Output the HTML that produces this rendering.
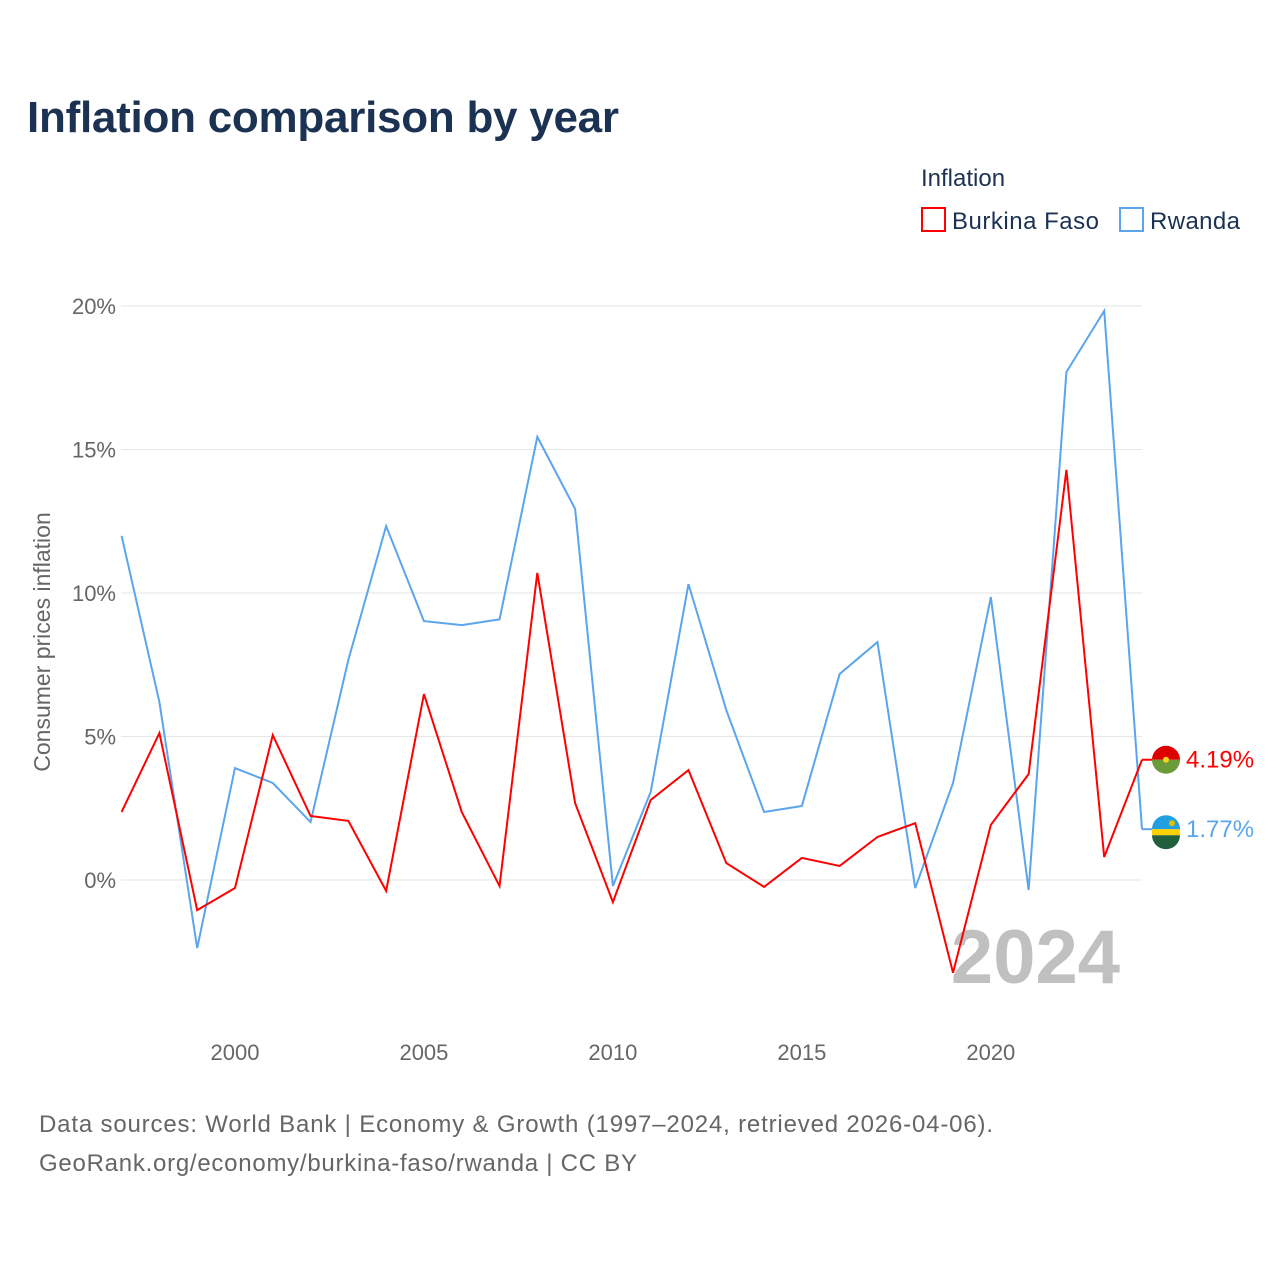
<!DOCTYPE html>
<html><head><meta charset="utf-8"><style>
body{margin:0;background:#fff;font-family:"Liberation Sans",sans-serif;}
svg text{font-family:"Liberation Sans",sans-serif;}
</style></head><body>
<svg id="chart" width="1280" height="1280">
<text x="27" y="132" font-size="44" font-weight="bold" fill="#1b3252" textLength="592">Inflation comparison by year</text>
<text x="921" y="186" font-size="24" fill="#1b3252">Inflation</text>
<g><rect x="922" y="208" width="23" height="23" fill="none" stroke="#ff0000" stroke-width="2"/><text x="952" y="229" font-size="24" fill="#1b3252" textLength="147">Burkina Faso</text></g>
<g><rect x="1120" y="208" width="23" height="23" fill="none" stroke="#5aa5ec" stroke-width="2"/><text x="1150" y="229" font-size="24" fill="#1b3252" textLength="90">Rwanda</text></g>
<text transform="translate(50,642) rotate(-90)" text-anchor="middle" font-size="23" fill="#666">Consumer prices inflation</text>
<g id="grid"></g><g id="yt"></g><g id="xt"></g>
<text x="1120" y="983" text-anchor="end" font-size="76" font-weight="bold" fill="#c0c0c0">2024</text>
<g id="series"></g>
<text x="39" y="1132" font-size="24" fill="#666" textLength="954">Data sources: World Bank | Economy &amp; Growth (1997–2024, retrieved 2026-04-06).</text>
<text x="39" y="1171" font-size="24" fill="#666" textLength="598">GeoRank.org/economy/burkina-faso/rwanda | CC BY</text>
</svg>
<script>
const years=[1997,1998,1999,2000,2001,2002,2003,2004,2005,2006,2007,2008,2009,2010,2011,2012,2013,2014,2015,2016,2017,2018,2019,2020,2021,2022,2023,2024];
const burkinaFaso=[2.37,5.12,-1.05,-0.28,5.05,2.23,2.06,-0.38,6.48,2.37,-0.21,10.7,2.68,-0.77,2.79,3.83,0.59,-0.24,0.77,0.49,1.50,1.98,-3.23,1.92,3.69,14.29,0.80,4.19];
const rwanda=[11.99,6.2,-2.37,3.9,3.38,2.02,7.67,12.33,9.02,8.88,9.08,15.44,12.93,-0.21,3.07,10.31,5.92,2.37,2.58,7.18,8.29,-0.28,3.38,9.86,-0.35,17.7,19.83,1.77];
const yTicks=[0,5,10,15,20];
const xTicks=[2000,2005,2010,2015,2020];
const NS="http://www.w3.org/2000/svg";
const X=v=>121.6+(v-1997)*(1142-121.6)/27;
const Y=v=>880-v*28.7;
function mk(t,a,p){const e=document.createElementNS(NS,t);for(const k in a)e.setAttribute(k,a[k]);p.appendChild(e);return e;}
const grid=document.getElementById('grid'),yt=document.getElementById('yt'),xt=document.getElementById('xt'),ser=document.getElementById('series');
yTicks.forEach(v=>{
 const l=mk('line',{x1:121,x2:1142,y1:Y(v),y2:Y(v),stroke:'#e6e6e6','stroke-width':1},grid);
 
 
 const t=mk('text',{x:116,y:Y(v)+8,'text-anchor':'end','font-size':22,fill:'#666'},yt);
 t.textContent=v+'%';
 
 
});
xTicks.forEach(v=>{
 const t=mk('text',{x:X(v),y:1060,'text-anchor':'middle','font-size':22,fill:'#666'},xt);
 t.textContent=v;
 
 
});
function line(vals,color,name){
 const p=mk('polyline',{points:vals.map((v,i)=>X(years[i])+','+Y(v)).join(' '),fill:'none',stroke:color,'stroke-width':2,'stroke-linejoin':'miter'},ser);
 
 
}
line(rwanda,'#5aa5ec','rwanda-line');
line(burkinaFaso,'#ff0000','burkina-faso-line');
function endLabel(vals,color,name,flag){
 const v=vals[vals.length-1],x=X(years[years.length-1]),y=Y(v);
 mk('line',{x1:x,x2:x+10,y1:y,y2:y,stroke:color,'stroke-width':2},ser);
 const g=mk('g',{},ser);
 
 
 if(flag==='bf'){
  mk('path',{d:`M${x+10} ${y} a14 14 0 0 1 28 0z`,fill:'#de0000'},g);
  mk('path',{d:`M${x+10} ${y} a14 14 0 0 0 28 0z`,fill:'#6a9a3a'},g);
  mk('circle',{cx:x+24,cy:y,r:3,fill:'#fcd116'},g);
 }else{
  mk('path',{d:`M${x+10} ${y} a14 14 0 0 1 28 0z`,fill:'#20a0e0'},g);
  mk('rect',{x:x+10,y:y,width:28,height:6,fill:'#fad201'},g);
  mk('path',{d:`M${x+10} ${y+6} L${x+38} ${y+6} A14 14 0 0 1 ${x+10} ${y+6}z`,fill:'#20603d'},g);
  mk('circle',{cx:x+30,cy:y-6,r:3,fill:'#e5be01'},g);
 }
 const t=mk('text',{x:x+44,y:y+8,'font-size':24,fill:color},ser);
 t.textContent=v.toFixed(2)+'%';
 
 
}
endLabel(burkinaFaso,'#ff0000','burkina-faso','bf');
endLabel(rwanda,'#5aa5ec','rwanda','rw');
</script>
</body></html>
